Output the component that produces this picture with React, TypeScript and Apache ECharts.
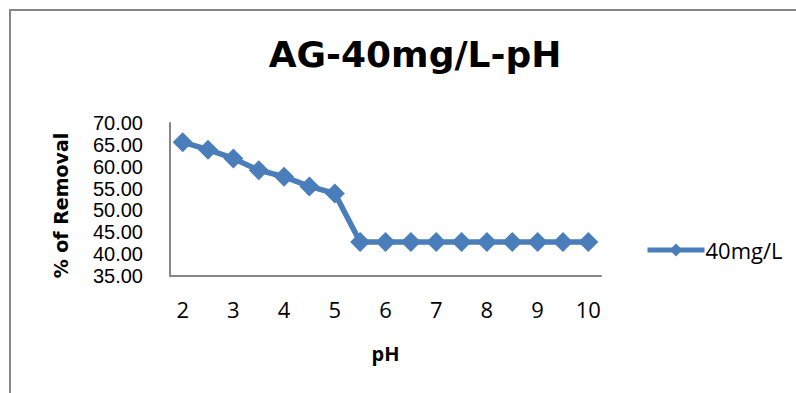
import React, { useEffect, useRef } from "react";
import * as echarts from "echarts";

// pH values tested (category axis, every other one labelled)
const phLevels: string[] = [
  "2", "2.5", "3", "3.5", "4", "4.5", "5", "5.5", "6",
  "6.5", "7", "7.5", "8", "8.5", "9", "9.5", "10",
];

// % of removal at 40 mg/L
const removal40: number[] = [
  65.6, 63.9, 61.9, 59.2, 57.7, 55.5, 53.9, 42.8, 42.8,
  42.8, 42.8, 42.8, 42.8, 42.8, 42.8, 42.8, 42.8,
];

const seriesName = "40mg/L";
const chartTitle = "AG-40mg/L-pH";

const BLUE = "#4a7ebb";
const GREY = "#868686";
const LABEL_FONT = "'Open Sans', sans-serif";

export default function App() {
  const ref = useRef<HTMLDivElement>(null);

  useEffect(() => {
    if (!ref.current) return;
    const chart = echarts.init(ref.current, undefined, { renderer: "svg" });
    chart.setOption({
      animation: false,
      backgroundColor: "#ffffff",
      title: {
        text: chartTitle,
        left: 410,
        textAlign: "center",
        top: 31,
        textStyle: {
          fontFamily: "DejaVu Sans",
          fontWeight: "bold",
          fontSize: 36,
          color: "#000000",
        },
      },
      graphic: [
        {
          type: "rect",
          shape: { x: 10, y: 10, width: 1000, height: 600 },
          style: { fill: "none", stroke: GREY, lineWidth: 2 },
          silent: true,
        },
      ],
      legend: {
        left: 640,
        top: 234,
        itemWidth: 57,
        itemHeight: 16,
        itemGap: 0,
        data: [
          {
            name: seriesName,
            itemStyle: { color: BLUE },
            lineStyle: { color: BLUE, width: 5 },
          },
        ],
        textStyle: {
          fontFamily: LABEL_FONT,
          fontSize: 22,
          color: "#000000",
          padding: [0, 0, 0, -4],
        },
      },
      grid: { left: 170, top: 123, width: 431, height: 153 },
      xAxis: {
        type: "category",
        data: phLevels,
        boundaryGap: true,
        name: "pH",
        nameLocation: "middle",
        nameGap: 67,
        nameTextStyle: {
          fontFamily: LABEL_FONT,
          fontWeight: "bold",
          fontSize: 20,
          color: "#000000",
        },
        axisLine: { lineStyle: { color: GREY, width: 2 } },
        axisTick: { show: false },
        axisLabel: {
          interval: 1,
          margin: 22,
          fontFamily: LABEL_FONT,
          fontSize: 22,
          color: "#000000",
        },
        splitLine: { show: false },
      },
      yAxis: {
        type: "value",
        min: 35,
        max: 70,
        interval: 5,
        name: "% of Removal",
        nameLocation: "middle",
        nameRotate: 90,
        nameGap: 100,
        nameTextStyle: {
          fontFamily: "DejaVu Sans",
          fontWeight: "bold",
          fontSize: 19,
          color: "#000000",
          padding: [0, 12, 0, 0],
        },
        axisLine: { show: true, lineStyle: { color: GREY, width: 2 } },
        axisTick: { show: false },
        splitLine: { show: false },
        axisLabel: {
          margin: 27,
          fontFamily: "'Liberation Sans', sans-serif",
          fontSize: 20,
          lineHeight: 20,
          color: "#000000",
          showMinLabel: true,
          showMaxLabel: true,
          hideOverlap: false,
          formatter: (v: number) => v.toFixed(2),
        },
      },
      series: [
        {
          name: seriesName,
          type: "line",
          data: removal40,
          symbol: "diamond",
          symbolSize: 20,
          showSymbol: true,
          showAllSymbol: true,
          itemStyle: { color: BLUE },
          lineStyle: { color: BLUE, width: 5.5 },
        },
      ],
    });
    return () => chart.dispose();
  }, []);

  return (
    <div
      ref={ref}
      style={{ position: "fixed", left: 0, top: 0, width: 796, height: 393 }}
    />
  );
}
